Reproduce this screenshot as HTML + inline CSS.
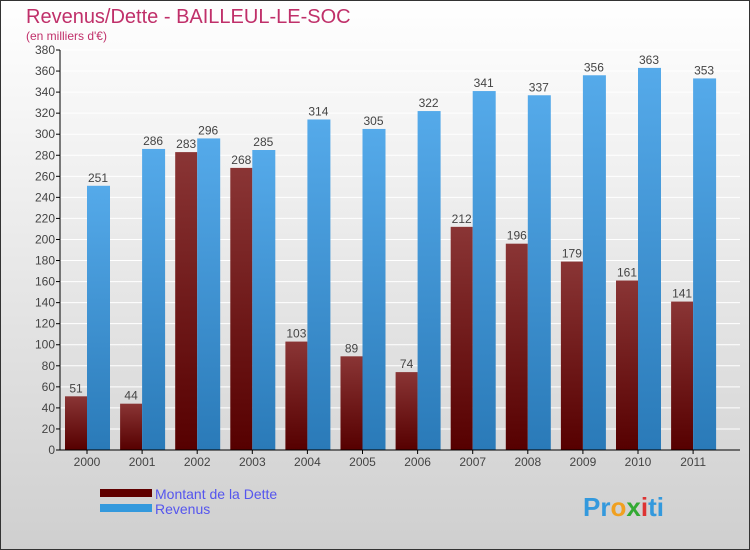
<!DOCTYPE html>
<html><head><meta charset="utf-8"><style>
body{margin:0;background:#fff}
svg{display:block;font-family:"Liberation Sans",sans-serif}
</style></head><body>
<svg width="750" height="550" viewBox="0 0 750 550">
<defs>
<linearGradient id="bg" x1="0" y1="0" x2="0" y2="1"><stop offset="0" stop-color="#ffffff"/><stop offset="1" stop-color="#cfcfcf"/></linearGradient>
<linearGradient id="gd" x1="0" y1="0" x2="0" y2="1"><stop offset="0" stop-color="#8a3535"/><stop offset="1" stop-color="#560000"/></linearGradient>
<linearGradient id="gr" x1="0" y1="0" x2="0" y2="1"><stop offset="0" stop-color="#55aaea"/><stop offset="1" stop-color="#2a7ab8"/></linearGradient>
</defs>
<rect x="0.5" y="0.5" width="749" height="549" fill="url(#bg)" stroke="#333"/>
<text x="26" y="23" font-size="20" fill="#c0306a">Revenus/Dette - BAILLEUL-LE-SOC</text>
<text x="26" y="40" font-size="12" fill="#c0306a">(en milliers d'€)</text>
<g id="grid"></g><g id="bars"></g><g id="axes"></g>
<rect x="100" y="489" width="52" height="8" fill="#600000"/>
<text x="155" y="499" font-size="14" fill="#5555ee">Montant de la Dette</text>
<rect x="100" y="504" width="52" height="8" fill="#3399dd"/>
<text x="155" y="514" font-size="14" fill="#5555ee">Revenus</text>
<text x="583" y="516" font-size="26" font-weight="bold"><tspan fill="#3399dd">Pr</tspan><tspan fill="#f0a020">o</tspan><tspan fill="#33aa33">x</tspan><tspan fill="#dd3333">i</tspan><tspan fill="#3399dd">ti</tspan></text>
</svg>
<script>
const years=["2000","2001","2002","2003","2004","2005","2006","2007","2008","2009","2010","2011"];
const dette=[51,44,283,268,103,89,74,212,196,179,161,141];
const revenus=[251,286,296,285,314,305,322,341,337,356,363,353];
const yTicks=[0,20,40,60,80,100,120,140,160,180,200,220,240,260,280,300,320,340,360,380];
const NS="http://www.w3.org/2000/svg";
const y=v=>450-v*400/380;
const xc=i=>87+55.1*i;
function mk(p,t,a){const e=document.createElementNS(NS,t);for(const k in a)e.setAttribute(k,a[k]);p.appendChild(e);return e;}
const grid=document.getElementById('grid'),bars=document.getElementById('bars'),axes=document.getElementById('axes');
yTicks.forEach(t=>{
  const l=mk(grid,'line',{x1:60,x2:740,y1:y(t),y2:y(t),stroke:'#fff','stroke-width':1});
  
  
  const tk=mk(axes,'line',{x1:56,x2:60,y1:y(t),y2:y(t),stroke:'#000'});
  
  
  const tx=mk(axes,'text',{x:55,y:y(t)+4,'font-size':12,fill:'#444','text-anchor':'end'});
  tx.textContent=t;
  
  
});
years.forEach((yr,i)=>{
  const c=xc(i);
  const b1=mk(bars,'rect',{x:c-22,y:y(dette[i]),width:22,height:450-y(dette[i]),fill:'url(#gd)'});
  
  
  const b2=mk(bars,'rect',{x:c,y:y(revenus[i]),width:23,height:450-y(revenus[i]),fill:'url(#gr)'});
  
  
  const l1=mk(bars,'text',{x:c-11,y:y(dette[i])-4,'font-size':12,fill:'#444','text-anchor':'middle'});
  l1.textContent=dette[i];
  
  
  const l2=mk(bars,'text',{x:c+11,y:y(revenus[i])-4,'font-size':12,fill:'#444','text-anchor':'middle'});
  l2.textContent=revenus[i];
  
  
  const tk=mk(axes,'line',{x1:c,x2:c,y1:450,y2:454,stroke:'#000'});
  
  
  const xt=mk(axes,'text',{x:c,y:466,'font-size':12,fill:'#444','text-anchor':'middle'});
  xt.textContent=yr;
  
  
});
const ya=mk(axes,'line',{x1:60,x2:60,y1:50,y2:450,stroke:'#000'});


const xa=mk(axes,'line',{x1:60,x2:740,y1:450,y2:450,stroke:'#000'});


</script>
</body></html>
